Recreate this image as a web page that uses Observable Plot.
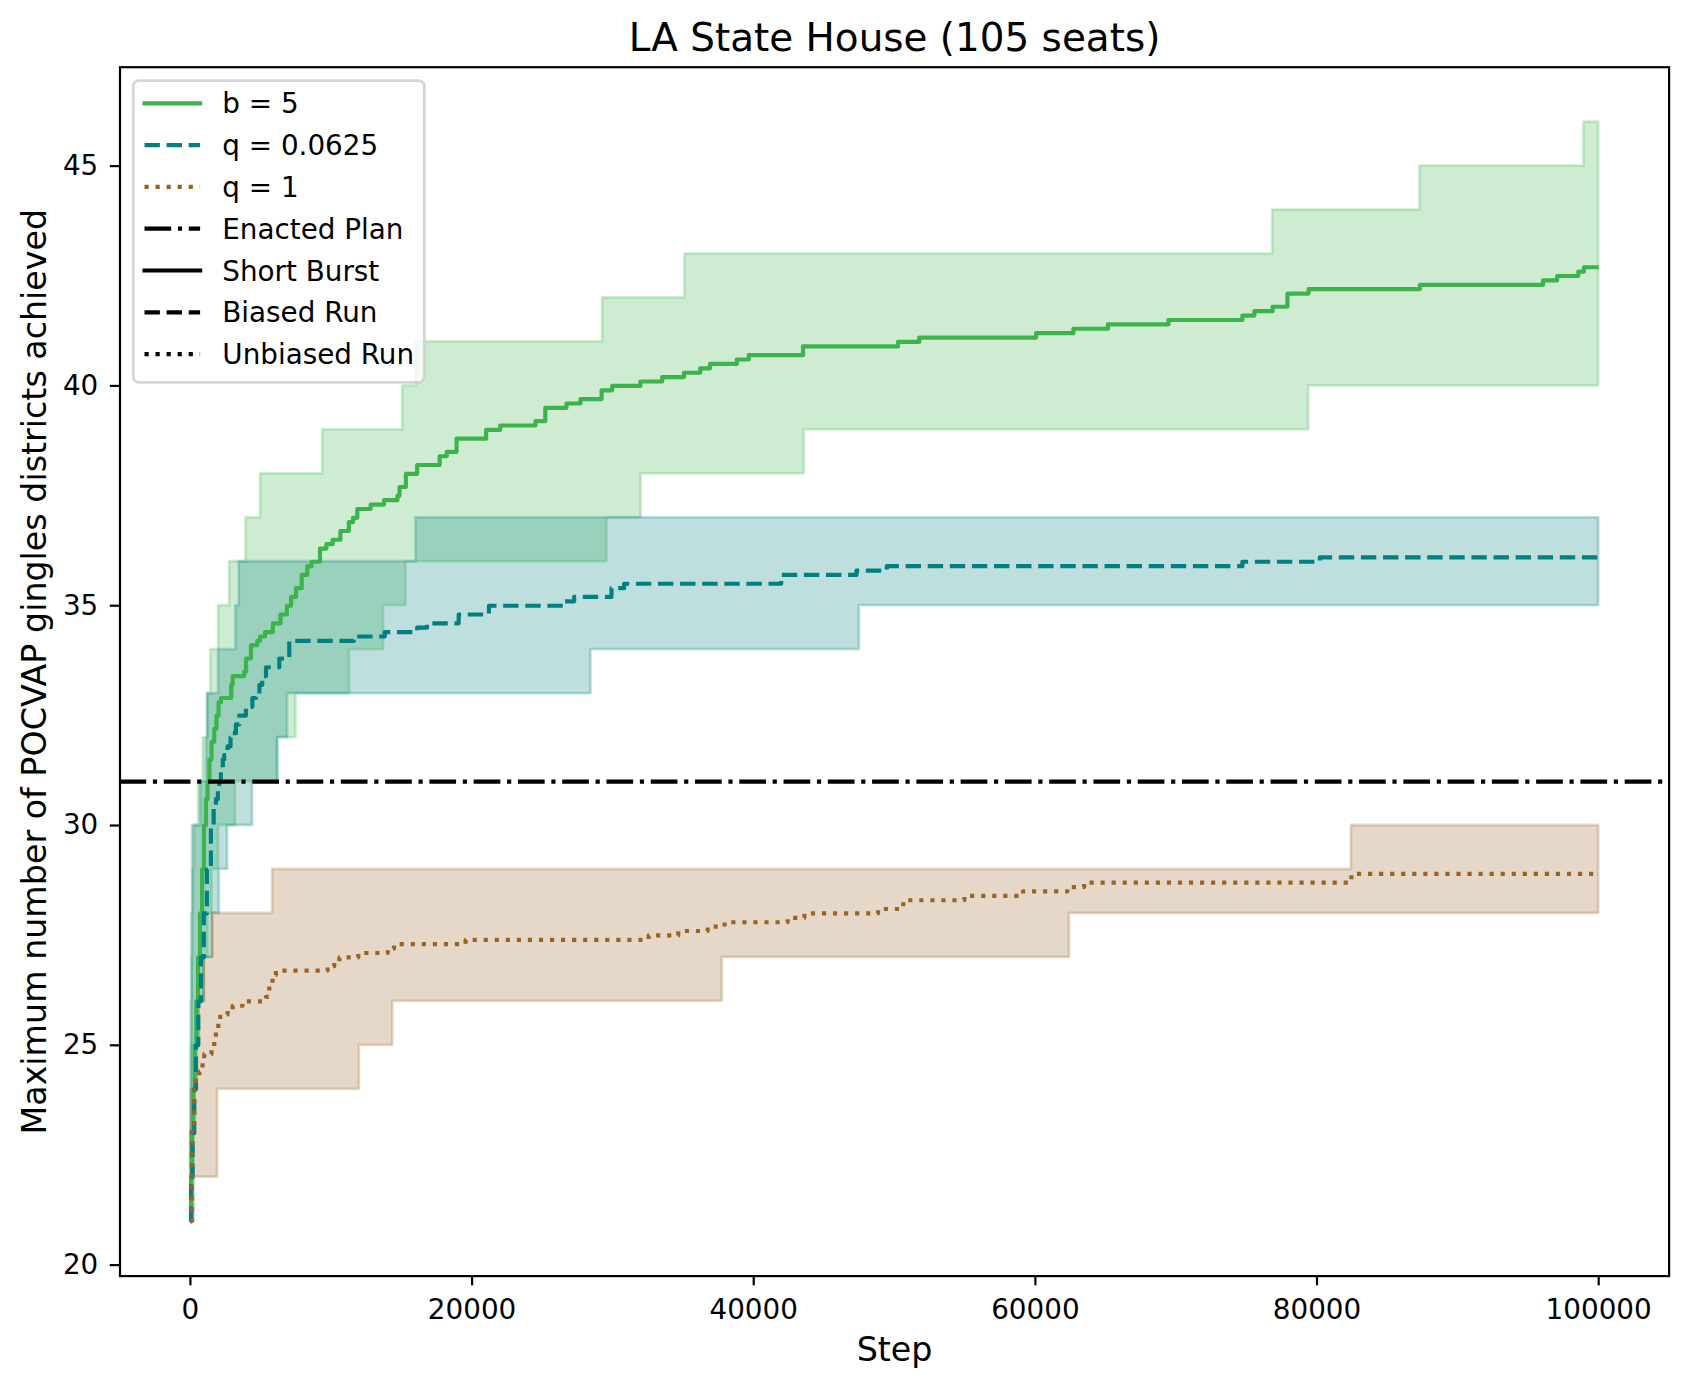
<!DOCTYPE html>
<html>
<head>
<meta charset="utf-8">
<script src="https://cdn.jsdelivr.net/npm/d3@7"></script>
<script src="https://cdn.jsdelivr.net/npm/@observablehq/plot@0.6"></script>
<style>
  html, body { margin: 0; padding: 0; background: #ffffff; }
  #chart svg { display: block; }
</style>
</head>
<body>
<div id="chart"></div>
<script>
// ---------- data ----------
const titleText = "LA State House (105 seats)";
const xLabel = "Step";
const yLabel = "Maximum number of POCVAP gingles districts achieved";
const xTicks = [0, 20000, 40000, 60000, 80000, 100000];
const yTicks = [20, 25, 30, 35, 40, 45];
const enacted = [31];

// mean of runs: [step, value]
const b5Mean = [[0,21],[60,22],[120,23],[200,24],[300,25],[420,26],[540,27],[680,28],[830,29],[960,30],[1100,30.6],[1219,31.0],[1350,31.5],[1500,31.9],[1692,32.2],[1850,32.5],[2000,32.8],[2170,32.9],[2900,33.2],[3000,33.4],[3820,33.5],[3950,33.8],[4300,34.1],[4750,34.2],[4950,34.3],[5300,34.4],[5850,34.6],[6400,34.8],[6850,35.0],[7150,35.2],[7500,35.4],[7900,35.7],[8300,35.9],[8600,36.0],[9200,36.3],[9650,36.4],[10100,36.5],[10650,36.7],[11250,36.9],[11550,37.0],[11850,37.2],[12800,37.3],[13750,37.4],[14700,37.5],[14850,37.7],[15300,38.0],[16100,38.2],[17700,38.4],[18200,38.5],[18900,38.8],[21000,39.0],[22000,39.1],[24500,39.2],[25200,39.5],[26700,39.6],[27700,39.7],[29200,39.9],[29950,40.0],[31950,40.1],[33500,40.2],[35050,40.3],[36200,40.4],[36900,40.5],[38800,40.6],[39650,40.7],[43500,40.9],[50250,41.0],[51750,41.1],[60050,41.2],[62700,41.3],[65150,41.4],[69450,41.5],[74700,41.6],[75550,41.7],[76850,41.8],[77900,42.1],[79400,42.2],[87300,42.3],[96050,42.4],[97050,42.5],[98550,42.6],[98950,42.7],[100000,42.7]];
const q0625Mean = [[0,21],[50,22],[154,23],[270,24],[390,25],[560,26],[746,27],[950,28],[1170,29],[1455,30.0],[1650,30.4],[1810,30.6],[1950,30.8],[2050,31.0],[2165,31.3],[2300,31.5],[2400,31.6],[2640,31.8],[2850,32.0],[3000,32.1],[3230,32.3],[3470,32.5],[3940,32.7],[4400,32.9],[4650,33.0],[4900,33.2],[5100,33.4],[5365,33.6],[6310,33.8],[7020,34.2],[11600,34.3],[13800,34.4],[16100,34.5],[16800,34.6],[19050,34.8],[21200,35.0],[26500,35.1],[27250,35.2],[29900,35.4],[30800,35.5],[41950,35.7],[47300,35.8],[49450,35.9],[74700,36.0],[80200,36.1],[100000,36.1]];
const q1Mean = [[0,21],[100,23.1],[270,24.0],[390,24.25],[630,24.4],[860,24.6],[980,24.8],[1500,24.95],[1690,25.1],[1810,25.3],[1980,25.5],[2120,25.7],[2640,25.8],[3000,25.9],[3700,26.0],[5360,26.1],[5600,26.4],[5835,26.6],[6070,26.7],[9740,26.8],[10215,26.9],[10580,27.0],[11920,27.1],[14010,27.2],[14460,27.3],[19540,27.4],[32540,27.5],[34640,27.6],[36730,27.7],[37930,27.8],[42410,27.9],[43600,28.0],[48830,28.1],[50620,28.3],[54960,28.4],[59130,28.5],[62270,28.6],[63460,28.7],[82440,28.9],[100000,28.9]];

// range of runs (max / min): [step, value]
const b5Upper = [[0,21],[20,23],[60,25],[120,27],[200,29],[300,30],[580,31],[912,32],[1220,33],[1455,34],[2000,35],[2780,36],[3950,37],[4980,38],[9390,39],[15070,40],[16015,41],[29270,42],[35120,43],[76850,44],[87300,45],[98950,46],[100000,46]];
const b5Lower = [[0,21],[150,22],[250,23],[350,24],[509,25],[630,26],[983,27],[1250,28],[1540,29],[2000,30],[3207,31],[6200,32],[7490,33],[11300,34],[13720,35],[15310,36],[29580,37],[32000,38],[43590,39],[79410,40],[100000,40]];
const q0625Upper = [[0,21],[30,24],[60,26],[100,28],[154,30],[746,31],[1150,32],[1220,33],[2000,34],[3230,35],[3467,36],[16015,37],[100000,37]];
const q0625Lower = [[0,21],[50,22],[150,23],[250,24],[400,25],[550,26],[983,27],[1600,28],[2048,29],[2640,30],[4415,31],[6200,32],[6900,33],[28440,34],[47500,35],[100000,35]];
const q1Upper = [[0,21],[40,23],[100,24],[300,25],[600,26],[983,27],[1540,28],[5835,29],[82440,30],[100000,30]];
const q1Lower = [[0,21],[272,22],[1930,24],[12000,25],[14370,26],[37770,27],[62420,28],[100000,28]];

const seriesLabels = ["b = 5", "q = 0.0625", "q = 1"];
const styleLabels = ["Enacted Plan", "Short Burst", "Biased Run", "Unbiased Run"];

// ---------- styling ----------
const GREEN = "#3cb44b", TEAL = "#008080", BROWN = "#9A6324";
const LW = 4.17;                 // 1.5pt @200dpi
const DASH = "15.4 6.7";
const DOT = "4.17 6.88";
const DASHDOT = "26.7 6.7 4.17 6.7";
const W = 1688, H = 1386;
const mL = 119.5, mR = 1688 - 1668.6, mT = 66.7, mB = 1386 - 1275.6;
const FONT = "DejaVu Sans";

// band table needed by areaY: both step functions evaluated on the union of their breakpoints
function stepAt(pts, x) { let v = pts[0][1]; for (const [s, val] of pts) { if (s <= x) v = val; else break; } return v; }
function band(upper, lower) {
  const xs = Array.from(new Set([...upper.map(d => d[0]), ...lower.map(d => d[0])])).sort((a, b) => a - b);
  return xs.map(x => ({step: x, lo: stepAt(lower, x), hi: stepAt(upper, x)}));
}
const bandOpts = (c) => ({x: "step", y1: "lo", y2: "hi", curve: "step-after", fill: c, fillOpacity: 0.25, stroke: c, strokeOpacity: 0.25, strokeWidth: 2.78});
const lineOpts = (c, dash) => ({x: d => d[0], y: d => d[1], curve: "step-after", stroke: c, strokeWidth: LW, strokeLinejoin: "round", strokeLinecap: "butt", strokeDasharray: dash});

const chart = Plot.plot({
  width: W, height: H,
  marginLeft: mL, marginRight: mR, marginTop: mT, marginBottom: mB,
  style: {fontFamily: FONT, background: "#ffffff", color: "#000000", overflow: "visible"},
  x: {domain: [-5000, 105000]},
  y: {domain: [19.75, 47.25]},
  marks: [
    Plot.areaY(band(b5Upper, b5Lower), bandOpts(GREEN)),
    Plot.areaY(band(q0625Upper, q0625Lower), bandOpts(TEAL)),
    Plot.areaY(band(q1Upper, q1Lower), bandOpts(BROWN)),
    Plot.line(b5Mean, lineOpts(GREEN, null)),
    Plot.line(q0625Mean, lineOpts(TEAL, DASH)),
    Plot.line(q1Mean, lineOpts(BROWN, DOT)),
    Plot.ruleY(enacted, {stroke: "#000000", strokeWidth: LW, strokeDasharray: DASHDOT}),
    Plot.axisX({ticks: xTicks, tickFormat: d => String(d), tickSize: 9.7, tickPadding: 13, fontSize: 27.8, strokeWidth: 2.2, label: null}),
    Plot.axisY({ticks: yTicks, tickFormat: d => String(d), tickSize: 9.7, tickPadding: 12, fontSize: 27.8, strokeWidth: 2.2, label: null}),
    Plot.frame({stroke: "#000000", strokeWidth: 2.2}),
    Plot.text([titleText], {frameAnchor: "top", dy: -16.2, lineAnchor: "bottom", fontSize: 38.9, fill: "#000000"}),
    Plot.text([xLabel], {frameAnchor: "bottom", dy: 84.4, lineAnchor: "bottom", fontSize: 33.3, fill: "#000000"}),
    Plot.text([yLabel], {frameAnchor: "left", dx: -84.4, rotate: -90, textAnchor: "middle", lineAnchor: "middle", fontSize: 33.3, fill: "#000000"})
  ]
});
document.getElementById("chart").appendChild(chart);

// ---------- legend (inside the axes, upper left, like matplotlib) ----------
const svg = d3.select(chart);
const lg = svg.append("g").attr("font-family", FONT).attr("font-size", 27.8).attr("text-anchor", "start");
lg.append("rect")
  .attr("x", 133.3).attr("y", 80.7).attr("width", 291).attr("height", 301.6)
  .attr("rx", 5.6).attr("ry", 5.6)
  .attr("fill", "#ffffff").attr("fill-opacity", 0.8)
  .attr("stroke", "#cccccc").attr("stroke-opacity", 0.8).attr("stroke-width", 2.78);
const entries = [
  {label: seriesLabels[0], color: GREEN, dash: null},
  {label: seriesLabels[1], color: TEAL, dash: DASH},
  {label: seriesLabels[2], color: BROWN, dash: DOT},
  {label: styleLabels[0], color: "#000000", dash: DASHDOT},
  {label: styleLabels[1], color: "#000000", dash: null},
  {label: styleLabels[2], color: "#000000", dash: DASH},
  {label: styleLabels[3], color: "#000000", dash: DOT}
];
entries.forEach((e, i) => {
  const cy = 103.3 + i * 41.8;
  lg.append("line")
    .attr("x1", 144.5).attr("x2", 200.1).attr("y1", cy).attr("y2", cy)
    .attr("stroke", e.color).attr("stroke-width", LW)
    .attr("stroke-linecap", e.dash ? "butt" : "square")
    .attr("stroke-dasharray", e.dash);
  lg.append("text").attr("x", 222.3).attr("y", cy + 10).attr("text-anchor", "start").attr("fill", "#000000").text(e.label);
});
</script>
</body>
</html>
